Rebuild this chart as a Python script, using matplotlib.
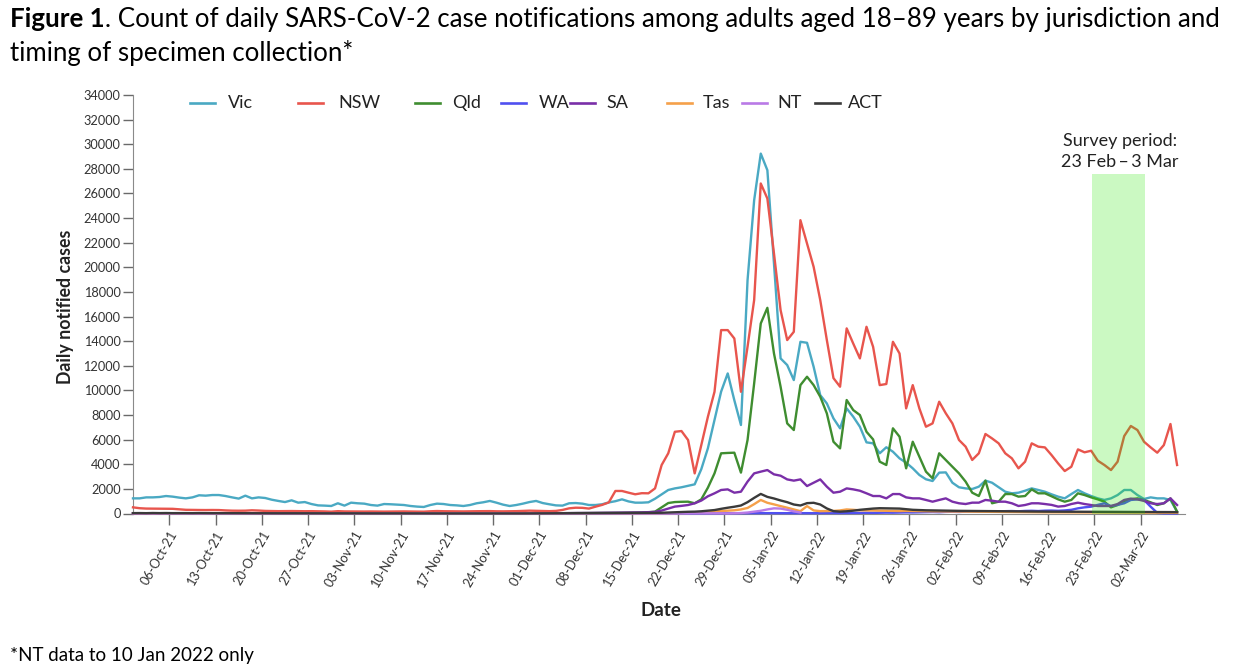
import matplotlib
matplotlib.use('Agg')
import matplotlib.pyplot as plt
from matplotlib.lines import Line2D
from matplotlib.patches import Rectangle
import numpy as np

plt.rcParams['font.family'] = ['Lato', 'DejaVu Sans']

# ---------------- data (daily counts, from 30-Sep/01-Oct-21 to 08-Mar-22) ----------------
vic = [1230, 1230, 1310, 1310, 1340, 1420, 1370, 1290, 1230, 1310,
       1480, 1450, 1500, 1500, 1420, 1310, 1210, 1450, 1230, 1310,
       1260, 1120, 1020, 930, 1070, 880, 930, 770, 660, 640,
       610, 830, 640, 880, 830, 800, 690, 640, 770, 750,
       720, 690, 610, 560, 530, 690, 800, 770, 690, 660,
       610, 690, 830, 910, 1020, 880, 720, 610, 690, 800,
       930, 1020, 850, 750, 660, 640, 830, 850,
       800, 690, 690, 750, 900, 1000, 1150, 980, 880, 880,
       910, 1200, 1550, 1910, 2040, 2130, 2250, 2370, 3600, 5300, 7600, 9900,
       11380, 9200, 7190, 18960, 25450, 29240, 27890, 20310, 12600, 12060,
       10840, 13950, 13870, 11920, 9620, 8940, 7730, 6920, 8540, 7860,
       7050, 5780, 5700, 4890, 5380, 5020, 4480, 4130, 3670, 3130,
       2780, 2640, 3320, 3340, 2500, 2130, 2040, 1990, 2180, 2670,
       2500, 2130, 1770, 1640, 1690, 1850, 2040, 1910, 1770, 1560,
       1370, 1230, 1580, 1910, 1640, 1420, 1230, 1100, 1230, 1500,
       1910, 1910, 1500, 1180, 1310, 1230, 1230, 1100, 150]

nsw = [500, 430, 400, 395, 390, 390, 380, 340, 300, 290,
       285, 280, 285, 280, 250, 230, 225, 230, 260, 240,
       210, 200, 190, 195, 200, 190, 185, 190, 180, 170,
       150, 190, 170, 165, 160, 160, 165, 160, 155, 160,
       165, 170, 160, 155, 150, 180, 200, 185, 180, 175,
       170, 180, 185, 190, 195, 180, 175, 180, 190, 210,
       230, 215, 200, 190, 210, 290, 420, 470,
       460, 400, 555, 700, 900, 1830, 1830, 1690, 1560, 1650,
       1640, 2040, 3940, 4890, 6640, 6700, 5970, 3260, 5560, 7860, 9890, 14900,
       14900, 14220, 9890, 13550, 17340, 26810, 25590, 21120, 16520, 14090,
       14760, 23830, 21940, 20040, 17340, 14090, 11000, 10300, 15040, 13800,
       12600, 15170, 13540, 10430, 10520, 13950, 13000, 8540, 10430, 8540,
       7050, 7320, 9080, 8140, 7320, 5970, 5430, 4350, 4890, 6460,
       6100, 5700, 4890, 4480, 3670, 4210, 5700, 5430, 5370, 4750,
       4070, 3450, 3800, 5210, 4970, 5100, 4290, 3940, 3530, 4210,
       6290, 7110, 6780, 5830, 5370, 4940, 5560, 7270, 3940]

qld = [10, 10, 8, 10, 12, 10, 8, 10, 10, 12,
       10, 8, 10, 10, 12, 10, 8, 10, 12, 10,
       10, 10, 8, 10, 10, 12, 10, 8, 10, 10,
       12, 10, 10, 8, 10, 10, 12, 10, 8, 10,
       10, 12, 14, 12, 10, 10, 12, 14, 12, 10,
       12, 14, 16, 14, 12, 14, 16, 18, 16, 14,
       16, 18, 20, 22, 20, 18, 22, 26, 30, 28,
       30, 35, 40, 45, 50, 60, 70, 80, 100,
       150, 500, 850, 930, 950, 960, 830, 1150, 2100, 3260, 4890,
       4920, 4940, 3320, 5970, 10570, 15440, 16710, 13000, 10300, 7320,
       6780, 10430, 11110, 10430, 9490, 8130, 5830, 5290, 9220, 8400,
       8000, 6640, 6020, 4210, 3940, 6920, 6240, 3670, 5830, 4620,
       3400, 2860, 4890, 4340, 3800, 3260, 2590, 1690, 1420, 2670,
       830, 960, 1580, 1580, 1370, 1420, 1960, 1640, 1640, 1400,
       1150, 960, 1100, 1640, 1500, 1310, 1150, 960, 500, 690,
       960, 1150, 1230, 1100, 910, 690, 830, 1230, 150]

wa = [0, 0, 1, 0, 0, 0, 1, 0, 0, 0,
      0, 1, 0, 0, 0, 0, 0, 1, 0, 0,
      0, 0, 1, 0, 0, 0, 0, 0, 1, 0,
      0, 0, 0, 1, 0, 0, 0, 0, 0, 1,
      0, 0, 0, 0, 1, 0, 0, 0, 1, 0,
      0, 0, 1, 0, 0, 0, 1, 0, 0, 0,
      1, 0, 0, 1, 0, 2, 1, 0, 2, 1,
      2, 1, 2, 3, 2, 3, 4, 3, 5, 4,
      5, 6, 5, 8, 7, 10, 12, 9, 14, 16,
      18, 20, 25, 22, 30, 28, 35, 30, 26, 22,
      25, 30, 28, 24, 30, 35, 40, 32, 38, 45,
      50, 55, 48, 60, 70, 65, 80, 90, 85, 100,
      110, 120, 105, 130, 140, 125, 150, 160, 150, 170,
      180, 165, 190, 200, 180, 210, 220, 200, 230, 240,
      220, 250, 300, 420, 500, 555, 700, 830, 600, 700,
      830, 1100, 1150, 1100, 555, 50, 10, 5, 0]

sa = [2, 3, 2, 1, 2, 3, 2, 2, 1, 2,
      2, 1, 2, 3, 2, 2, 1, 2, 2, 1,
      2, 2, 3, 2, 1, 2, 2, 2, 1, 2,
      2, 1, 2, 2, 3, 2, 2, 1, 2, 2,
      2, 3, 2, 2, 1, 2, 3, 5, 4, 6,
      5, 8, 10, 12, 9, 14, 12, 16, 20, 18,
      22, 25, 20, 28, 30, 26, 35, 40, 38, 45,
      50, 55, 60, 58, 70, 80, 75, 90, 110, 130,
      240, 400, 560, 620, 690, 830, 1050, 1400, 1640, 1910,
      1960, 1690, 1770, 2590, 3260, 3400, 3530, 3180, 3070, 2770,
      2670, 2770, 2230, 2500, 2770, 2180, 1690, 1770, 2040, 1960,
      1850, 1640, 1420, 1420, 1230, 1580, 1580, 1310, 1230, 1230,
      1100, 960, 1100, 1230, 960, 830, 770, 880, 880, 1100,
      1040, 960, 960, 830, 610, 690, 830, 830, 770, 700,
      560, 610, 770, 880, 770, 690, 610, 610, 610, 770,
      1100, 1210, 1150, 1020, 830, 770, 830, 1230, 690]

tas = [0, 0, 0, 0, 0, 0, 0, 0, 0, 0,
       0, 0, 0, 0, 0, 0, 0, 0, 0, 0,
       0, 0, 0, 0, 0, 0, 0, 0, 0, 0,
       0, 0, 0, 0, 0, 0, 0, 0, 0, 0,
       0, 0, 0, 0, 0, 0, 0, 0, 0, 0,
       0, 0, 0, 0, 0, 0, 0, 0, 0, 0,
       0, 0, 0, 0, 0, 0, 0, 0, 0, 0,
       0, 0, 0, 0, 0, 1, 2, 3, 5, 8,
       12, 18, 25, 35, 45, 60, 80, 120, 180, 200,
       230, 260, 330, 450, 760, 1100, 870, 740, 600, 470,
       330, 190, 600, 250, 190, 200, 210, 250, 330, 300,
       260, 250, 240, 230, 220, 210, 200, 210, 200, 190,
       180, 175, 170, 165, 160, 150, 145, 140, 135, 130,
       125, 120, 118, 115, 110, 108, 105, 100, 98, 95,
       92, 90, 88, 85, 85, 82, 80, 80, 78, 75,
       75, 72, 70, 72, 70, 68, 66, 65, 60]

nan = float('nan')
nt = [0, 0, 0, 0, 0, 0, 0, 0, 0, 0,
      0, 0, 0, 0, 0, 0, 0, 0, 0, 0,
      0, 0, 0, 0, 0, 0, 0, 0, 0, 0,
      0, 0, 0, 0, 0, 0, 0, 0, 0, 0,
      1, 2, 3, 2, 4, 3, 2, 3, 2, 1,
      2, 1, 1, 2, 1, 0, 1, 0, 0, 1,
      0, 1, 0, 0, 1, 0, 1, 2, 1, 2,
      2, 3, 2, 3, 4, 3, 5, 4, 6, 5,
      6, 8, 7, 10, 9, 12, 14, 12, 15, 18,
      5, 20, 40, 80, 150, 220, 330, 420, 400, 300,
      170, 80] + [nan] * 57

act = [30, 35, 28, 40, 32, 38, 30, 36, 33, 29,
       35, 30, 28, 32, 27, 25, 30, 24, 22, 26,
       20, 22, 18, 21, 19, 17, 20, 16, 15, 18,
       14, 16, 13, 15, 12, 14, 11, 13, 12, 10,
       12, 10, 9, 11, 8, 10, 9, 7, 8, 6,
       8, 6, 7, 5, 6, 7, 5, 6, 8, 7,
       9, 8, 10, 12, 11, 14, 16, 15, 18, 20,
       22, 25, 28, 30, 35, 38, 40, 45, 50, 55,
       60, 80, 100, 120, 140, 150, 180, 230, 280, 380,
       470, 550, 650, 920, 1270, 1590, 1350, 1220, 1060, 920,
       730, 650, 840, 870, 730, 410, 190, 150, 180, 230,
       300, 350, 400, 430, 420, 410, 400, 350, 300, 280,
       260, 250, 240, 230, 220, 215, 210, 200, 195, 190,
       185, 180, 175, 170, 168, 165, 160, 158, 155, 150,
       150, 148, 145, 140, 140, 138, 135, 135, 130, 130,
       128, 125, 125, 122, 120, 120, 118, 115, 110]

tick_labels = ['06-Oct-21', '13-Oct-21', '20-Oct-21', '27-Oct-21', '03-Nov-21',
               '10-Nov-21', '17-Nov-21', '24-Nov-21', '01-Dec-21', '08-Dec-21',
               '15-Dec-21', '22-Dec-21', '29-Dec-21', '05-Jan-22', '12-Jan-22',
               '19-Jan-22', '26-Jan-22', '02-Feb-22', '09-Feb-22', '16-Feb-22',
               '23-Feb-22', '02-Mar-22']

series_names = ['Vic', 'NSW', 'Qld', 'WA', 'SA', 'Tas', 'NT', 'ACT']
series_values = [vic, nsw, qld, wa, sa, tas, nt, act]
colors = ['#4aa9c3', '#e8554d', '#3f8d30', '#5050f0', '#7a2fa8', '#f5a04a', '#b97ae6', '#3a3a3a']

survey_start, survey_end, survey_top = 145.1, 153.2, 27600

# ---------------- figure ----------------
W, H = 1242, 665
fig = plt.figure(figsize=(W / 100, H / 100), dpi=100)


def fx(px):
    return px / W


def fy(py):
    return 1 - py / H


ax = fig.add_axes([fx(133), fy(513.5), (1185 - 133) / W, (513.5 - 95) / H])

order = [0, 1, 2, 4, 5, 6, 7, 3]
for k in order:
    vals = np.array(series_values[k], dtype=float)
    ax.plot(np.arange(len(vals)), vals, color=colors[k], lw=1.7,
            solid_joinstyle='round', zorder=3 + k * 0.1, clip_on=False)

ax.add_patch(Rectangle((survey_start, 0), survey_end - survey_start, survey_top,
                       facecolor=(0.15, 0.9, 0.0), alpha=0.24, edgecolor='none', zorder=10))
mid = (survey_start + survey_end) / 2 + 0.2
ax.text(mid, 30300, 'Survey period:', ha='center', va='center', fontsize=13, color='#222222')
ax.text(mid, 28550, '23 Feb\u2009\u2013\u20093 Mar', ha='center', va='center', fontsize=13,
        color='#222222')

ax.set_xlim(0, 159.2)
ax.set_ylim(0, 34000)
ax.set_yticks(np.arange(0, 34001, 2000))
ax.set_yticklabels([str(v) for v in range(0, 34001, 2000)])
ax.set_xticks([5.5 + 7 * k for k in range(len(tick_labels))])
ax.set_xticklabels(tick_labels, rotation=60, ha='right', va='top', rotation_mode='anchor')

for s in ['top', 'right']:
    ax.spines[s].set_visible(False)
ax.spines['left'].set_color('#8a8a8a')
ax.spines['bottom'].set_color('#8a8a8a')
ax.tick_params(axis='y', direction='out', length=7, width=1, color='#6a6a6a',
               labelsize=9.2, labelcolor='#333333', pad=2)
ax.tick_params(axis='x', direction='out', length=8, width=1, color='#6a6a6a',
               labelsize=9.3, labelcolor='#333333', pad=3)

fig.text(fx(661), fy(611), 'Date', ha='center', va='center', fontsize=13.5, weight='bold',
         color='#222222')
fig.text(fx(66), fy(307), 'Daily notified cases', ha='center', va='center', rotation=90,
         fontsize=12.8, weight='bold', color='#222222')

# legend (manual, single row)
leg_pos = [(190, 228), (298, 338), (415, 452), (501, 539), (570, 606), (667, 703), (742, 777), (815, 848)]
for (hx, tx), name, c in zip(leg_pos, series_names, colors):
    fig.add_artist(Line2D([fx(hx), fx(hx + 25)], [fy(103), fy(103)], transform=fig.transFigure,
                          color=c, lw=1.9))
    fig.text(fx(tx), fy(103), name, ha='left', va='center', fontsize=13, color='#222222')

# title with bold lead
renderer = fig.canvas.get_renderer()
TS = 18.6
t1 = fig.text(fx(10), fy(27), 'Figure 1', weight='bold', fontsize=TS, ha='left', va='baseline')
bb = t1.get_window_extent(renderer=renderer)
fig.text(bb.x1 / fig.bbox.width, fy(27),
         '. Count of daily SARS-CoV-2 case notifications among adults aged 18\u201389 years by jurisdiction and',
         fontsize=TS, ha='left', va='baseline')
fig.text(fx(10), fy(61), 'timing of specimen collection*', fontsize=TS, ha='left', va='baseline')

fig.text(fx(10), fy(655), '*NT data to 10 Jan 2022 only', fontsize=13.5, ha='left', va='center')

fig.savefig('out.png', dpi=100)
